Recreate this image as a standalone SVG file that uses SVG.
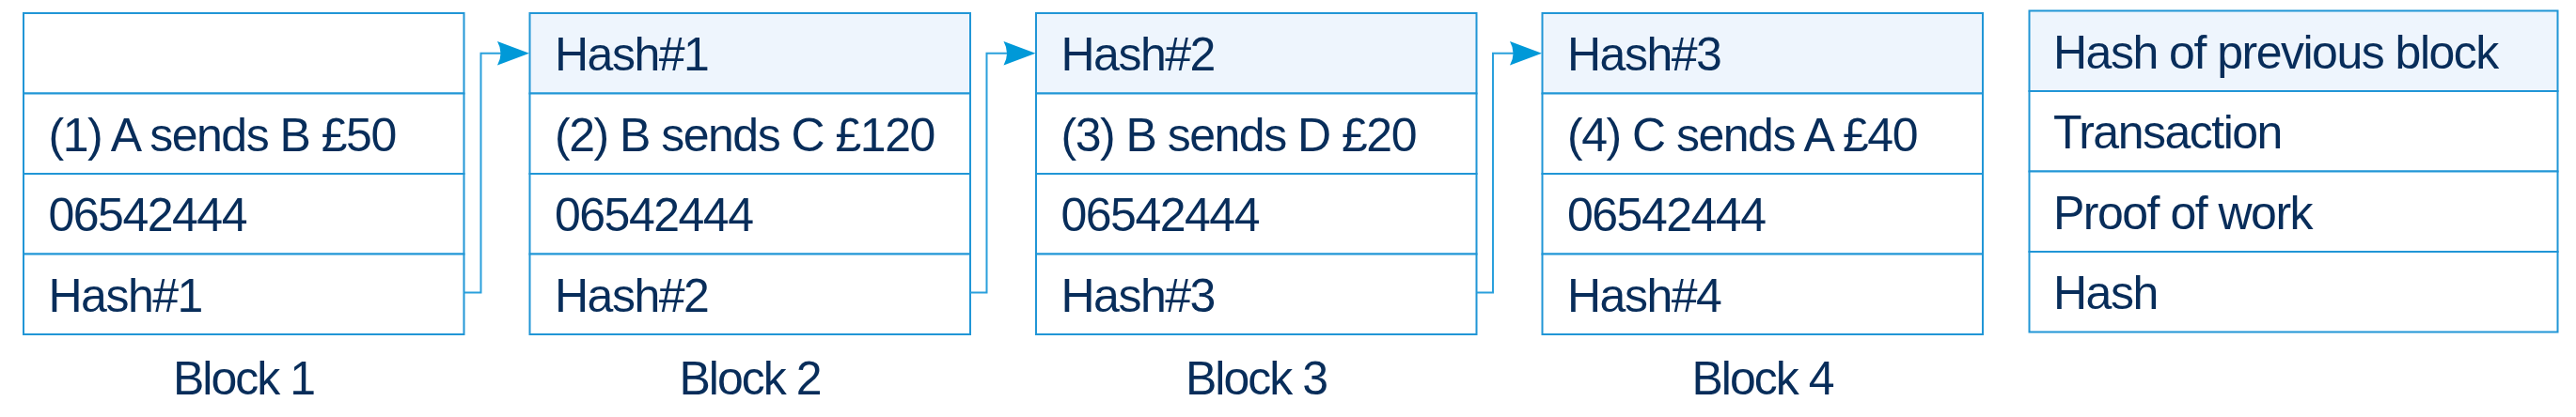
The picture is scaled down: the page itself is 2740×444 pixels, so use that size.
<svg xmlns="http://www.w3.org/2000/svg" width="2740" height="444" viewBox="0 0 2740 444">
<style>
.cell{fill:#ffffff;stroke:#2196d6;stroke-width:2}
.head{fill:#eef5fd;stroke:#2196d6;stroke-width:2}
.t{font-family:"Liberation Sans",Arial,sans-serif;font-size:50px;fill:#082d5a;letter-spacing:-1.5px}
.lbl{font-family:"Liberation Sans",Arial,sans-serif;font-size:50px;fill:#082d5a;text-anchor:middle;letter-spacing:-2px}
.wire{fill:none;stroke:#2aa0dc;stroke-width:2}
.ah{fill:#0099d8}
</style>
<rect width="2740" height="444" fill="#ffffff"/>
<g id="block1">
<rect class="cell" x="25" y="14" width="468.5" height="85.5"/>
<rect class="cell" x="25" y="99.5" width="468.5" height="85.5"/>
<rect class="cell" x="25" y="185" width="468.5" height="85.5"/>
<rect class="cell" x="25" y="270.5" width="468.5" height="85.5"/>
<text class="t" x="51.5" y="160.5">(1) A sends B £50</text>
<text class="t" x="51.5" y="246">06542444</text>
<text class="t" x="51.5" y="331.5">Hash#1</text>
<text class="lbl" x="259" y="420">Block 1</text>
</g>
<g id="block2">
<rect class="head" x="563.5" y="14" width="468.5" height="85.5"/>
<rect class="cell" x="563.5" y="99.5" width="468.5" height="85.5"/>
<rect class="cell" x="563.5" y="185" width="468.5" height="85.5"/>
<rect class="cell" x="563.5" y="270.5" width="468.5" height="85.5"/>
<text class="t" x="590" y="75">Hash#1</text>
<text class="t" x="590" y="160.5">(2) B sends C £120</text>
<text class="t" x="590" y="246">06542444</text>
<text class="t" x="590" y="331.5">Hash#2</text>
<text class="lbl" x="797.5" y="420">Block 2</text>
</g>
<g id="block3">
<rect class="head" x="1102" y="14" width="468.5" height="85.5"/>
<rect class="cell" x="1102" y="99.5" width="468.5" height="85.5"/>
<rect class="cell" x="1102" y="185" width="468.5" height="85.5"/>
<rect class="cell" x="1102" y="270.5" width="468.5" height="85.5"/>
<text class="t" x="1128.5" y="75">Hash#2</text>
<text class="t" x="1128.5" y="160.5">(3) B sends D £20</text>
<text class="t" x="1128.5" y="246">06542444</text>
<text class="t" x="1128.5" y="331.5">Hash#3</text>
<text class="lbl" x="1336" y="420">Block 3</text>
</g>
<g id="block4">
<rect class="head" x="1640.5" y="14" width="468.5" height="85.5"/>
<rect class="cell" x="1640.5" y="99.5" width="468.5" height="85.5"/>
<rect class="cell" x="1640.5" y="185" width="468.5" height="85.5"/>
<rect class="cell" x="1640.5" y="270.5" width="468.5" height="85.5"/>
<text class="t" x="1667" y="75">Hash#3</text>
<text class="t" x="1667" y="160.5">(4) C sends A £40</text>
<text class="t" x="1667" y="246">06542444</text>
<text class="t" x="1667" y="331.5">Hash#4</text>
<text class="lbl" x="1874.5" y="420">Block 4</text>
</g>
<g id="legend">
<rect class="head" x="2158.5" y="11.5" width="562" height="85.5"/>
<rect class="cell" x="2158.5" y="97" width="562" height="85.5"/>
<rect class="cell" x="2158.5" y="182.5" width="562" height="85.5"/>
<rect class="cell" x="2158.5" y="268" width="562" height="85.5"/>
<text class="t" x="2184" y="72.5">Hash of previous block</text>
<text class="t" x="2184" y="158">Transaction</text>
<text class="t" x="2184" y="243.5">Proof of work</text>
<text class="t" x="2184" y="329">Hash</text>
</g>
<g id="connectors">
<path class="wire" d="M493.5,311.5 H511.5 V56.7 H534"/>
<path class="ah" d="M563,56.7 L529,44 Q536,56.7 529,69.4 Z"/>
<path class="wire" d="M1032,311.5 H1049.5 V56.7 H1072.5"/>
<path class="ah" d="M1101.5,56.7 L1067.5,44 Q1074.5,56.7 1067.5,69.4 Z"/>
<path class="wire" d="M1570.5,311.5 H1588 V56.7 H1611"/>
<path class="ah" d="M1640,56.7 L1606,44 Q1613,56.7 1606,69.4 Z"/>
</g>
</svg>
